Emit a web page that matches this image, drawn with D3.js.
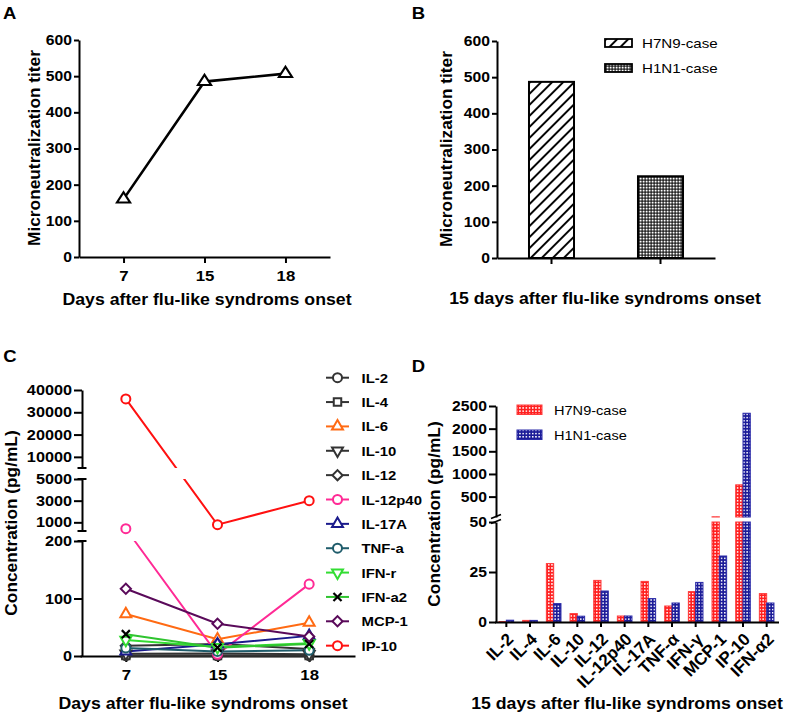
<!DOCTYPE html>
<html><head><meta charset="utf-8">
<script src="https://cdn.jsdelivr.net/npm/d3@7"></script>
<style>
body{margin:0;background:#fff;}
svg{display:block;font-family:"Liberation Sans",Arial,sans-serif;}
</style></head><body>
<svg id="c" width="787" height="716"></svg>
<script>
// ---------------- data ----------------
const daysA = ["7", "15", "18"];
const titerA = [160, 485, 507];
const ticksAB = [0, 100, 200, 300, 400, 500, 600];

const casesB = ["H7N9-case", "H1N1-case"];
const titerB = [487, 226];

const daysC = ["7", "15", "18"];
const namesC = ["IL-2", "IL-4", "IL-6", "IL-10", "IL-12", "IL-12p40", "IL-17A", "TNF-a", "IFN-r", "IFN-a2", "MCP-1", "IP-10"];
const il2C = [0.5, 0.3, 0.5];
const il4C = [1, 0.8, 1];
const il6C = [73, 29, 58];
const il10C = [4, 4.5, 3];
const il12C = [18, 21, 12];
const il12p40C = [410, 3, 125];
const il17aC = [8, 20.5, 35];
const tnfaC = [14, 8, 10];
const ifnrC = [28, 15.5, 22];
const ifna2C = [38, 14.5, 21];
const mcp1C = [117, 56, 34];
const ip10C = [36000, 780, 3000];
const ticksCTop = [10000, 20000, 30000, 40000];
const ticksCMid = [1000, 3000, 5000];
const ticksCLow = [0, 100, 200];

const catsD = ["IL-2", "IL-4", "IL-6", "IL-10", "IL-12", "IL-12p40", "IL-17A", "TNF-α", "IFN-γ", "MCP-1", "IP-10", "IFN-α2"];
const h7n9D = [0.2, 0.8, 29.2, 4.2, 20.8, 3, 20.3, 8, 15.2, 55, 760, 14.2];
const h1n1D = [0.9, 0.8, 9.2, 2.9, 15.5, 3, 11.7, 9.5, 19.8, 33, 2340, 9.5];
const seriesD = ["H7N9-case", "H1N1-case"];
const ticksDTop = [500, 1000, 1500, 2000, 2500];
const ticksDLow = [0, 25, 50];

// ---------------- setup ----------------
const FONT = '"Liberation Sans", Arial, sans-serif';
const SX = 1.12;
const fmt = d3.format("d");
const svg = d3.select("#c");
const defs = svg.append("defs");

function styleAxis(g, fs) {
  g.attr("font-family", FONT).attr("font-size", fs).attr("font-weight", "bold");
  g.selectAll("path.domain").attr("stroke", "#000").attr("stroke-width", 2);
  g.selectAll(".tick line").attr("stroke", "#000").attr("stroke-width", 2);
  g.selectAll(".tick text").classed("sx", true).attr("fill", "#000");
}
function label(x, y, t, fs, opts = {}) {
  const e = svg.append("text").attr("x", x).attr("y", y).text(t)
    .attr("font-size", fs).attr("font-weight", opts.normal ? "normal" : "bold")
    .attr("text-anchor", opts.anchor || "start").attr("fill", "#000");
  if (!opts.nostretch) e.classed("sx", true);
  return e;
}
function ylabel(x, y, t, fs) {
  return svg.append("text").attr("transform", `translate(${x},${y}) rotate(-90)`)
    .attr("text-anchor", "middle").attr("font-size", fs).attr("font-weight", "bold").text(t);
}

// patterns
const ph = defs.append("pattern").attr("id", "hatch").attr("patternUnits", "userSpaceOnUse")
  .attr("width", 7.8).attr("height", 7.8).attr("patternTransform", "rotate(45)");
ph.append("rect").attr("width", 7.8).attr("height", 7.8).attr("fill", "#fff");
ph.append("line").attr("x1", 3.9).attr("x2", 3.9).attr("y1", 0).attr("y2", 7.8).attr("stroke", "#000").attr("stroke-width", 1.9);

const pc = defs.append("pattern").attr("id", "check").attr("patternUnits", "userSpaceOnUse").attr("width", 3).attr("height", 3);
pc.append("rect").attr("width", 3).attr("height", 3).attr("fill", "#000");
pc.append("rect").attr("x", 0.6).attr("y", 0.6).attr("width", 2).attr("height", 2).attr("fill", "#fff");

function dotPat(id, col) {
  const p = defs.append("pattern").attr("id", id).attr("patternUnits", "userSpaceOnUse").attr("width", 3.2).attr("height", 3.2);
  p.append("rect").attr("width", 3.2).attr("height", 3.2).attr("fill", col);
  p.append("rect").attr("x", 0.8).attr("y", 0.8).attr("width", 1.5).attr("height", 1.5).attr("fill", "#fff");
}
dotPat("redDots", "#ff2020");
dotPat("blueDots", "#1c1c98");

// ---------------- Panel A ----------------
label(3, 18.5, "A", 16.5);
const xA = d3.scalePoint().domain(daysA).range([79, 330]).padding(0.55);
const yA = d3.scaleLinear().domain([0, 600]).range([257, 40]);
svg.append("g").attr("transform", "translate(79,0)")
  .call(d3.axisLeft(yA).tickValues(ticksAB).tickFormat(fmt).tickSize(5).tickPadding(2).tickSizeOuter(0))
  .call(g => styleAxis(g, 14));
svg.append("g").attr("transform", "translate(0,257)")
  .call(d3.axisBottom(xA).tickSize(6).tickPadding(7).tickSizeOuter(0))
  .call(g => styleAxis(g, 15));
svg.append("path").datum(titerA)
  .attr("d", d3.line().x((d, i) => xA(daysA[i])).y(d => yA(d)))
  .attr("fill", "none").attr("stroke", "#000").attr("stroke-width", 2.6);
svg.selectAll("path.triA").data(titerA).join("path").attr("class", "triA")
  .attr("d", d3.symbol(d3.symbolTriangle, 62))
  .attr("transform", (d, i) => `translate(${xA(daysA[i])},${yA(d)}) scale(1.1,1)`)
  .attr("fill", "#fff").attr("stroke", "#000").attr("stroke-width", 2);
label(207, 305, "Days after flu-like syndroms onset", 15.8, { anchor: "middle" });
ylabel(40, 148, "Microneutralization titer", 17.3);

// ---------------- Panel B ----------------
label(411.7, 18.5, "B", 16.5);
const xB = d3.scaleBand().domain(casesB).range([497, 715]).paddingInner(0.587).paddingOuter(0.2935);
const yB = d3.scaleLinear().domain([0, 600]).range([258, 41]);
const fillsB = ["url(#hatch)", "url(#check)"];
svg.selectAll("rect.barB").data(titerB).join("rect").attr("class", "barB")
  .attr("x", (d, i) => xB(casesB[i])).attr("width", xB.bandwidth())
  .attr("y", d => yB(d)).attr("height", d => yB(0) - yB(d))
  .attr("fill", (d, i) => fillsB[i]).attr("stroke", "#000").attr("stroke-width", 2);
svg.append("g").attr("transform", "translate(497,0)")
  .call(d3.axisLeft(yB).tickValues(ticksAB).tickFormat(fmt).tickSize(5).tickPadding(2).tickSizeOuter(0))
  .call(g => styleAxis(g, 14));
svg.append("g").attr("transform", "translate(0,258)")
  .call(d3.axisBottom(xB).tickSize(6).tickFormat("").tickSizeOuter(0))
  .call(g => styleAxis(g, 14));
casesB.forEach((c, i) => {
  const y = 39 + i * 25;
  svg.append("rect").attr("x", 605).attr("y", y).attr("width", 27).attr("height", 8)
    .attr("fill", fillsB[i]).attr("stroke", "#000").attr("stroke-width", 1.8);
  label(642, y + 9, c, 13.5, { normal: true });
});
label(605, 304, "15 days after flu-like syndroms onset", 15.8, { anchor: "middle" });
ylabel(451.5, 149, "Microneutralization titer", 17.3);

// ---------------- Panel C ----------------
label(3.3, 361.7, "C", 16.5);
const xC = d3.scalePoint().domain(daysC).range([80, 355]).padding(0.5);
const yCTop = d3.scaleLinear().domain([5000, 40000]).range([468, 390]);
const yCMid = d3.scaleLinear().domain([200, 5000]).range([531, 479]);
const yCLow = d3.scaleLinear().domain([0, 200]).range([656, 541]);
const yC = v => v >= 5000 ? yCTop(v) : (v > 200 ? yCMid(v) : yCLow(v));

[[yCTop, ticksCTop], [yCMid, ticksCMid], [yCLow, ticksCLow]].forEach(([s, t]) => {
  svg.append("g").attr("transform", "translate(82,0)")
    .call(d3.axisLeft(s).tickValues(t).tickFormat(fmt).tickSize(8).tickPadding(2).tickSizeOuter(0))
    .call(g => styleAxis(g, 14.5));
});
[468, 479, 531, 541].forEach(y => {
  svg.append("line").attr("x1", 77.5).attr("x2", 86.5).attr("y1", y).attr("y2", y)
    .attr("stroke", "#000").attr("stroke-width", 2);
});
svg.append("g").attr("transform", "translate(0,656)")
  .call(d3.axisBottom(xC).tickSize(6).tickPadding(7).tickSizeOuter(0))
  .call(g => styleAxis(g, 15));

const valuesC = [il2C, il4C, il6C, il10C, il12C, il12p40C, il17aC, tnfaC, ifnrC, ifna2C, mcp1C, ip10C];
const styleC = [
  { c: "#333", m: "circle" }, { c: "#333", m: "square" }, { c: "#ff6a13", m: "tri" },
  { c: "#333", m: "triDown" }, { c: "#333", m: "diamond" }, { c: "#ff2a95", m: "circle" },
  { c: "#1a1a8c", m: "tri" }, { c: "#1f5c6b", m: "circle" }, { c: "#33dd33", m: "triDown" },
  { c: "#2fc42f", m: "x", mc: "#000" }, { c: "#5a0a5a", m: "diamond" }, { c: "#ff1111", m: "circle" }
];
const symDefs = {
  circle: [d3.symbol(d3.symbolCircle, 64), ""],
  square: [d3.symbol(d3.symbolSquare, 56), ""],
  tri: [d3.symbol(d3.symbolTriangle, 52), ""],
  triDown: [d3.symbol(d3.symbolTriangle, 52), " rotate(180)"],
  diamond: [d3.symbol(d3.symbolSquare, 52), " rotate(45)"],
  x: [d3.symbol(d3.symbolX, 44), ""]
};
const clip = defs.append("clipPath").attr("id", "clipC");
[[380, 468], [479, 531], [541, 680]].forEach(([a, b]) =>
  clip.append("rect").attr("x", 60).attr("y", a).attr("width", 320).attr("height", b - a));

const lineC = d3.line().x((d, i) => xC(daysC[i])).y(d => yC(d));
function marker(g, st, x, y) {
  const [sym, rot] = symDefs[st.m];
  g.append("path").attr("d", sym()).attr("transform", `translate(${x},${y})${rot}`)
    .attr("fill", st.m === "x" ? "none" : "#fff").attr("stroke", st.mc || st.c)
    .attr("stroke-width", st.m === "x" ? 2.2 : 2);
}
valuesC.forEach((vals, k) => {
  const st = styleC[k];
  svg.append("path").datum(vals).attr("d", lineC).attr("clip-path", "url(#clipC)")
    .attr("fill", "none").attr("stroke", st.c).attr("stroke-width", 2);
});
valuesC.forEach((vals, k) => {
  const g = svg.append("g");
  vals.forEach((v, i) => marker(g, styleC[k], xC(daysC[i]), yC(v)));
});
namesC.forEach((n, k) => {
  const y = 377.7 + 24.36 * k, st = styleC[k];
  svg.append("line").attr("x1", 326).attr("x2", 349).attr("y1", y).attr("y2", y)
    .attr("stroke", st.c).attr("stroke-width", 2);
  marker(svg.append("g"), st, 337.5, y);
  label(361.5, y + 5, n, 13.3);
});
label(203, 709, "Days after flu-like syndroms onset", 15.8, { anchor: "middle" });
ylabel(16.5, 523, "Concentration (pg/mL)", 17.3);

// ---------------- Panel D ----------------
label(411.7, 371.7, "D", 16.5);
const xD = d3.scaleBand().domain(catsD).range([494.5, 778.5]).padding(0);
const yDTop = d3.scaleLinear().domain([50, 2500]).range([517, 406]);
const yDLow = d3.scaleLinear().domain([0, 50]).range([622, 522]);
const bw = 7.3;
const fillD = ["url(#redDots)", "url(#blueDots)"];
const strokeD = ["#ff3a3a", "#2a2aa8"];
[h7n9D, h1n1D].forEach((vals, s) => {
  vals.forEach((v, i) => {
    const c = xD(catsD[i]) + xD.bandwidth() / 2;
    const x = s === 0 ? c - bw : c;
    const lowTop = v > 50 ? yDLow(50) : yDLow(v);
    svg.append("rect").attr("x", x).attr("width", bw).attr("y", lowTop).attr("height", yDLow(0) - lowTop)
      .attr("fill", fillD[s]).attr("stroke", strokeD[s]).attr("stroke-width", 1);
    if (v > 50) {
      svg.append("rect").attr("x", x).attr("width", bw).attr("y", yDTop(v)).attr("height", yDTop(50) - yDTop(v))
        .attr("fill", fillD[s]).attr("stroke", strokeD[s]).attr("stroke-width", 1);
    }
  });
});
svg.append("g").attr("transform", "translate(496,0)")
  .call(d3.axisLeft(yDTop).tickValues(ticksDTop).tickFormat(fmt).tickSize(7).tickPadding(2).tickSizeOuter(0))
  .call(g => styleAxis(g, 14));
svg.append("g").attr("transform", "translate(496,0)")
  .call(d3.axisLeft(yDLow).tickValues(ticksDLow).tickFormat(fmt).tickSize(7).tickPadding(2).tickSizeOuter(0))
  .call(g => styleAxis(g, 14));
[[518.5], [523.5]].forEach(([y]) => {
  svg.append("line").attr("x1", 491).attr("x2", 501).attr("y1", y).attr("y2", y - 4)
    .attr("stroke", "#000").attr("stroke-width", 1.6);
});
const gxD = svg.append("g").attr("transform", "translate(0,622)")
  .call(d3.axisBottom(xD).tickSize(5).tickSizeOuter(0))
  .call(g => styleAxis(g, 17));
gxD.selectAll(".tick text").classed("sx", false)
  .attr("y", 0).attr("dy", "0.35em").attr("text-anchor", "end")
  .attr("transform", "translate(4,14) rotate(-45)");
seriesD.forEach((n, s) => {
  const y = 405 + s * 25;
  svg.append("rect").attr("x", 517).attr("y", y).attr("width", 25).attr("height", 9.5)
    .attr("fill", fillD[s]).attr("stroke", strokeD[s]).attr("stroke-width", 1);
  label(554, y + 10, n, 13, { normal: true });
});
label(627, 709, "15 days after flu-like syndroms onset", 15.8, { anchor: "middle" });
ylabel(440, 514, "Concentration (pg/mL)", 17.3);

// horizontal stretch of text to match reference proportions
svg.selectAll("text.sx").each(function () {
  const l = this.getComputedTextLength();
  d3.select(this).attr("textLength", l * SX).attr("lengthAdjust", "spacingAndGlyphs");
});
</script>
</body></html>
